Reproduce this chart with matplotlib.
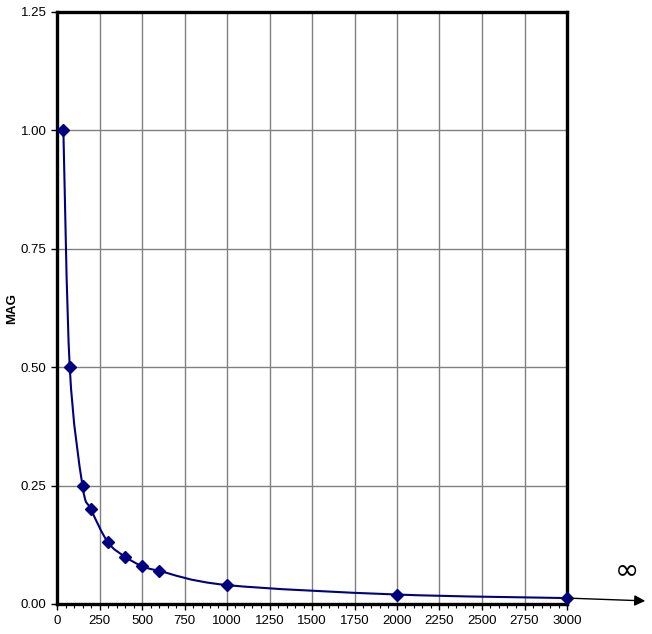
import matplotlib
matplotlib.use("Agg")
import matplotlib.pyplot as plt
from matplotlib.path import Path
from matplotlib.patches import PathPatch, FancyArrowPatch
from matplotlib.ticker import MultipleLocator, FormatStrFormatter

freq = [37.5, 75, 150, 200, 300, 400, 500, 600, 1000, 2000, 3000]
mag = [1.0, 0.5, 0.25, 0.2, 0.13, 0.1, 0.08, 0.07, 0.04, 0.02, 0.0125]
x_ticks = [0, 250, 500, 750, 1000, 1250, 1500, 1750, 2000, 2250, 2500, 2750, 3000]
y_ticks = [0.0, 0.25, 0.5, 0.75, 1.0, 1.25]
y_label = "MAG"
inf_label = "\u221e"

plt.rcParams['font.family'] = ['Liberation Sans', 'DejaVu Sans']

W, H = 652, 634
fig = plt.figure(figsize=(W / 100, H / 100), dpi=100)
ax = fig.add_axes([57 / W, (H - 604) / H, (567 - 57) / W, (604 - 12) / H])
ax.set_xlim(0, 3000)
ax.set_ylim(0, 1.25)

ax.set_xticks(x_ticks)
ax.set_yticks(y_ticks)
ax.xaxis.set_minor_locator(MultipleLocator(50))
ax.yaxis.set_major_formatter(FormatStrFormatter('%.2f'))
ax.grid(True, which='major', color='#808080', linewidth=1.0)
ax.set_axisbelow(True)
for s in ax.spines.values():
    s.set_linewidth(2.4)
    s.set_color('black')
ax.tick_params(axis='both', which='major', labelsize=9.5, length=4, width=1, direction='out', colors='black')
ax.tick_params(axis='x', which='minor', length=3, width=0.8, direction='out')
ax.tick_params(axis='x', pad=4)
fig.text(12 / W, (H - 308) / H, y_label, fontsize=9.5, fontweight='bold', rotation=90,
         ha='center', va='center')

# smoothed curve (Bezier segments through the data points)
pts = list(zip(freq, mag))
verts = [pts[0]]
codes = [Path.MOVETO]
n = len(pts)
for i in range(n - 1):
    p0 = pts[i - 1] if i > 0 else pts[i]
    p1 = pts[i]
    p2 = pts[i + 1]
    p3 = pts[i + 2] if i + 2 < n else pts[i + 1]
    c1 = (p1[0] + (p2[0] - p0[0]) / 6, p1[1] + (p2[1] - p0[1]) / 6)
    c2 = (p2[0] - (p3[0] - p1[0]) / 6, p2[1] - (p3[1] - p1[1]) / 6)
    verts += [c1, c2, p2]
    codes += [Path.CURVE4] * 3
patch = PathPatch(Path(verts, codes), facecolor='none', edgecolor='#000080', linewidth=1.5,
                  zorder=3, clip_on=False)
ax.add_patch(patch)
ax.plot(freq, mag, linestyle='none', marker='D', markersize=6.5, color='#000080', zorder=4, clip_on=False)

# arrow extending the x axis to infinity
x_end, y_end = ax.transData.transform((freq[-1], mag[-1]))
fig_tr = fig.transFigure.inverted()
start = fig_tr.transform((x_end, y_end))
end = fig_tr.transform((648, H - 601))
fig.add_artist(FancyArrowPatch(start, end, transform=fig.transFigure,
                               arrowstyle='-|>', mutation_scale=16,
                               color='black', linewidth=1.0))
fig.text(627 / W, (H - 570) / H, inf_label, fontsize=21, ha='center', va='center', family=['DejaVu Sans'])

fig.savefig("out.png", dpi=100)
